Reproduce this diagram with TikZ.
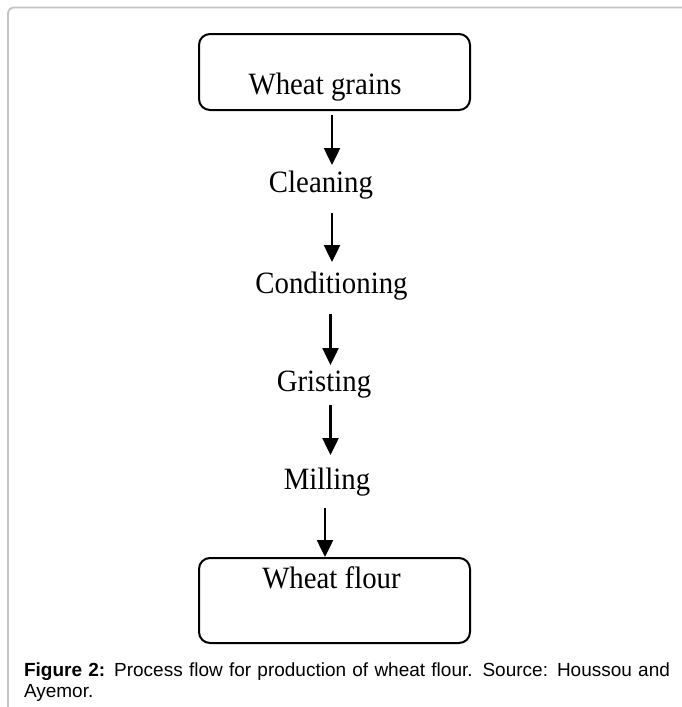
\documentclass[tikz,border=0pt]{standalone}
\usepackage{fontspec}
\setmainfont{Liberation Serif}
\newfontfamily\diagfont[FakeStretch=0.93]{Liberation Serif}
\newfontfamily\capfont{Liberation Sans}
\usetikzlibrary{arrows.meta}
\definecolor{framegray}{RGB}{196,196,196}
\begin{document}
\begin{tikzpicture}[x=1pt,y=-1pt,
  procbox/.style={draw, line width=2pt, rounded corners=11pt, minimum width=271pt,
    inner sep=0pt, outer sep=0pt, font=\diagfont\fontsize{31}{36}\selectfont},
  steptext/.style={inner sep=0pt, outer sep=0pt, text height=20pt, text depth=6pt,
    anchor=base, font=\diagfont\fontsize{31}{36}\selectfont},
  arr/.style={line width=2.5pt, -{Triangle[length=17pt,width=16pt]}},
  captext/.style={inner sep=0pt, outer sep=0pt, anchor=base west,
    font=\capfont\fontsize{19}{21}\selectfont}]
\useasboundingbox (0,0) rectangle (681,707);
\fill[white] (0,0) rectangle (681,707);
% outer frame
\draw[framegray, line width=1.8pt, rounded corners=6pt] (8,720) -- (8,7.5) -- (700,7.5);
% axes for arrows
\coordinate (axA) at (332,0);
\coordinate (axB) at (330.5,0);
\coordinate (axC) at (325,0);
% nodes
\node[procbox, minimum height=76pt, text height=50pt, text depth=6pt] (grains) at (334.5,72) {Wheat grains\hspace*{19pt}};
\node[steptext] (cleaning) at (321,192) {Cleaning};
\node[steptext] (conditioning) at (331.5,293) {Conditioning};
\node[steptext] (gristing) at (324,391) {Gristing};
\node[steptext] (milling) at (327,489) {Milling};
\node[procbox, minimum height=85pt, text height=20pt, text depth=45pt] (flour) at (334.5,600.5) {Wheat flour\hspace*{6pt}};
% arrows
\draw[arr, shorten <=5pt, shorten >=7pt] (grains.south -| axA) -- (cleaning.north -| axA);
\draw[arr, shorten <=15pt, shorten >=11pt] (cleaning.south -| axA) -- (conditioning.north -| axA);
\draw[arr, shorten <=15pt, shorten >=6pt] (conditioning.south -| axB) -- (gristing.north -| axB);
\draw[arr, shorten <=8pt, shorten >=14pt] (gristing.south -| axB) -- (milling.north -| axB);
\draw[arr, shorten <=13pt, shorten >=1pt] (milling.south -| axC) -- (flour.north -| axC);
% caption
\node[captext] (cap1) at (24,676) {\makebox[646pt][s]{\textbf{Figure 2:} Process flow for production of wheat flour. Source: Houssou and}};
\node[captext] (cap2) at (24,697) {Ayemor.};
\end{tikzpicture}
\end{document}
